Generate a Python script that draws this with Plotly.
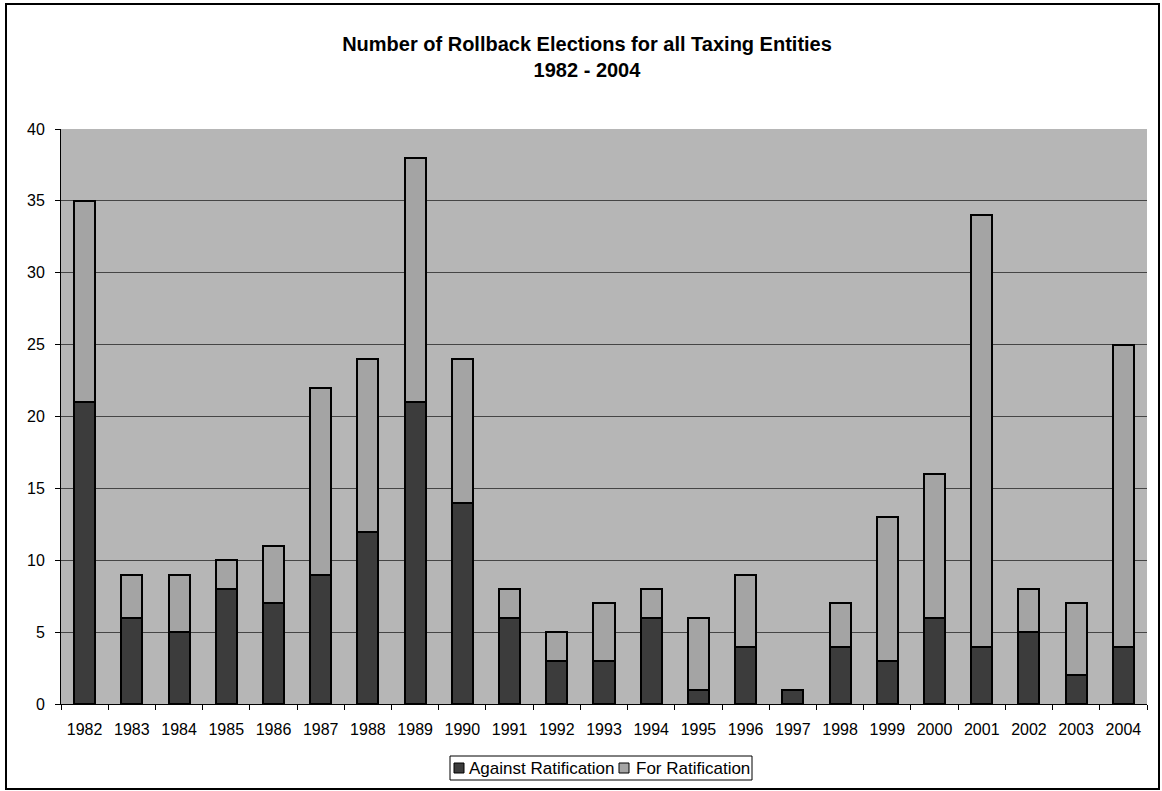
import plotly.graph_objects as go

# Rollback election counts by year
years = [str(y) for y in range(1982, 2005)]
against = [21, 6, 5, 8, 7, 9, 12, 21, 14, 6, 3, 3, 6, 1, 4, 1, 4, 3, 6, 4, 5, 2, 4]
totals = [35, 9, 9, 10, 11, 22, 24, 38, 24, 8, 5, 7, 8, 6, 9, 1, 7, 13, 16, 34, 8, 7, 25]
for_rat = [t - a for t, a in zip(totals, against)]

series_names = ["Against Ratification", "For Ratification"]
series_colors = ["#3c3c3c", "#a4a4a4"]

W, H = 1162, 791
ML, MR, MT, MB = 61, 15, 129, 87
PW, PH = W - ML - MR, H - MT - MB


def px_x(x):
    return (x - ML) / PW


def px_y(y):
    return (H - MB - y) / PH


fig = go.Figure()
for vals, name, col in zip([against, for_rat], series_names, series_colors):
    fig.add_trace(go.Bar(
        x=years, y=vals, name=name, showlegend=False,
        marker=dict(color=col, line=dict(color="#000000", width=2)),
    ))

# Outer frame and boxed legend below the axis
shapes = [
    dict(type="rect", xref="paper", yref="paper",
         x0=px_x(6), x1=px_x(1159), y0=px_y(789), y1=px_y(4),
         line=dict(color="#000000", width=2), fillcolor="rgba(0,0,0,0)", layer="below"),
    dict(type="rect", xref="paper", yref="paper",
         x0=px_x(450), x1=px_x(752), y0=px_y(780), y1=px_y(756),
         line=dict(color="#000000", width=1), fillcolor="white"),
]
annotations = []
legend_items = [(454, 467), (619, 634)]
for (mx, tx), name, col in zip(legend_items, series_names, series_colors):
    shapes.append(dict(type="rect", xref="paper", yref="paper",
                       x0=px_x(mx), x1=px_x(mx + 10), y0=px_y(773), y1=px_y(763),
                       line=dict(color="#000000", width=1), fillcolor=col))
    annotations.append(dict(text=name, xref="paper", yref="paper",
                            x=px_x(tx), y=px_y(768), xanchor="left", yanchor="middle",
                            showarrow=False, font=dict(size=17, color="#000000")))

fig.update_layout(
    width=W, height=H,
    barmode="stack", bargap=0.555,
    paper_bgcolor="white", plot_bgcolor="#b6b6b6",
    margin=dict(l=ML, r=MR, t=MT, b=MB),
    font=dict(family="Liberation Sans, Arial, sans-serif", size=16, color="#000000"),
    title=dict(
        text="<b>Number of Rollback Elections for all Taxing Entities<br>1982 - 2004</b>",
        x=587 / W, xanchor="center", y=1 - 51 / H, yanchor="middle",
        font=dict(size=20, color="#000000"),
    ),
    showlegend=False,
    xaxis=dict(
        type="category", showline=True, linecolor="#000000", linewidth=1,
        ticks="outside", tickson="boundaries", ticklen=5, tickcolor="#000000",
        showgrid=False, ticklabelstandoff=11,
    ),
    yaxis=dict(
        range=[0, 40], dtick=5, showline=True, linecolor="#000000", linewidth=1,
        ticks="outside", ticklen=5, tickcolor="#000000", ticklabelstandoff=7,
        showgrid=True, gridcolor="#454545", gridwidth=1, zeroline=False,
    ),
    shapes=shapes,
    annotations=annotations,
)

fig.write_html("out.html")
